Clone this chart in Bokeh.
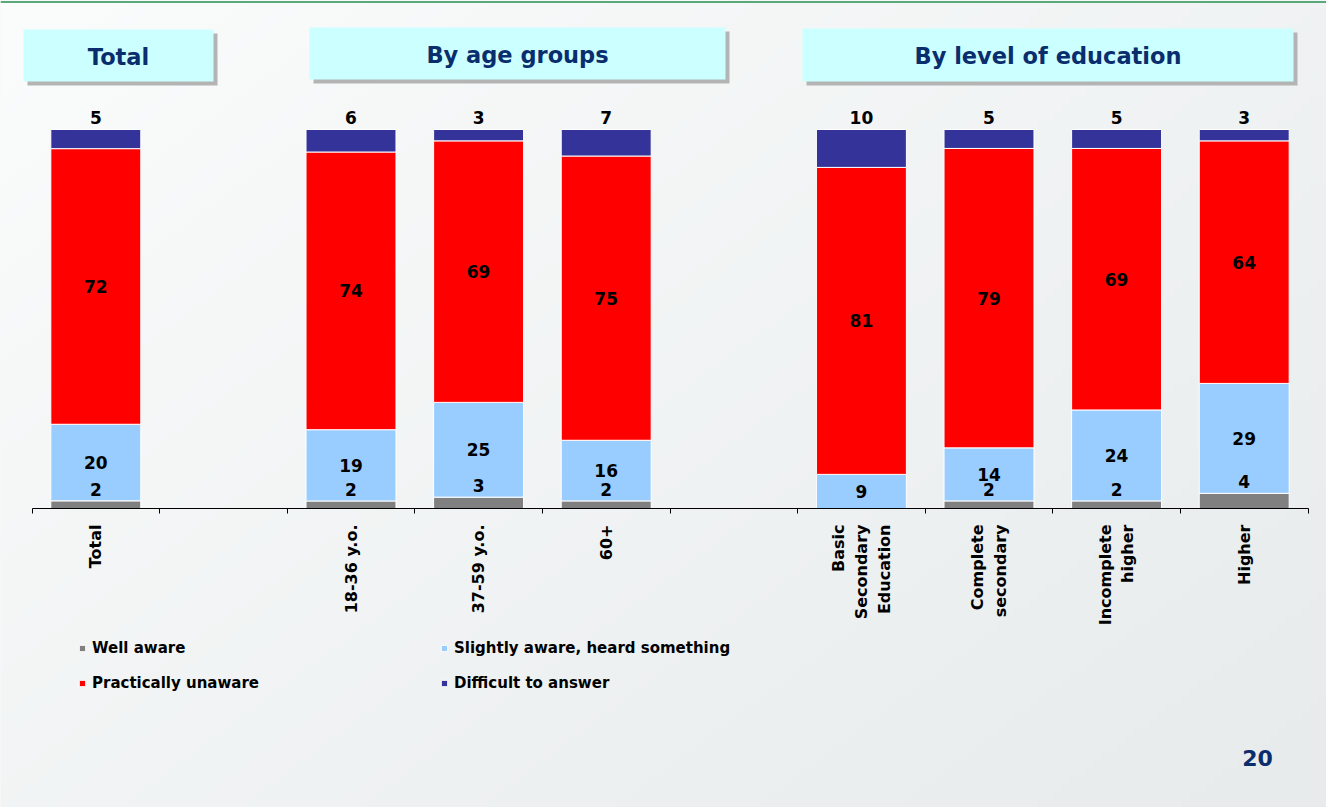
import numpy as np
from bokeh.plotting import figure
from bokeh.models import (Range1d, LinearAxis, FixedTicker, ColumnDataSource,
                          Legend, LegendItem, Span)
from bokeh.core.properties import value
from bokeh.embed import file_html
from bokeh.resources import INLINE

# ---------------- data ----------------
slots = ["Total", "", "18-36 y.o.", "37-59 y.o.", "60+", " ",
         "Basic\nSecondary\nEducation", "Complete\nsecondary",
         "Incomplete\nhigher", "Higher"]
groups = ["Total", "18-36 y.o.", "37-59 y.o.", "60+",
          "Basic\nSecondary\nEducation", "Complete\nsecondary",
          "Incomplete\nhigher", "Higher"]
well_aware = [2, 2, 3, 2, 0, 2, 2, 4]
slightly_aware = [20, 19, 25, 16, 9, 14, 24, 29]
practically_unaware = [72, 74, 69, 75, 81, 79, 69, 64]
difficult = [5, 6, 3, 7, 10, 5, 5, 3]
series_names = ["Well aware", "Slightly aware, heard something",
                "Practically unaware", "Difficult to answer"]
colors = ["#808080", "#99ccff", "#ff0000", "#333399"]
panel_titles = ["Total", "By age groups", "By level of education"]
page_number = "20"

# ---------------- geometry ----------------
W, H = 1326, 807
AX_LEFT, AX_RIGHT = 31.5, 1307.5
AX_Y, TOP_Y = 508.0, 129.0
n = len(slots)
ppx = (AX_RIGHT - AX_LEFT) / n
X0 = -0.5 - AX_LEFT / ppx
X1 = X0 + W / ppx
ppy = (AX_Y - TOP_Y) / 100.0
Y1 = AX_Y / ppy
Y0 = Y1 - H / ppy


def dx(px):
    return X0 + px / ppx


def dy(py):
    return Y1 - py / ppy


FONT = "DejaVu Sans"
NAVY = "#0a2d6e"

p = figure(width=W, height=H, x_range=Range1d(X0, X1), y_range=Range1d(Y0, Y1),
           output_backend="svg", toolbar_location=None, min_border=0,
           x_axis_location=None, y_axis_location=None,
           outline_line_color=None, background_fill_color="#f2f4f4",
           border_fill_color="#f2f4f4")
p.xgrid.visible = False
p.ygrid.visible = False

# background gradient
ny, nx = 101, 166
yy, xx = np.mgrid[0:ny, 0:nx]
t = (xx / (nx - 1)) * 0.55 + ((ny - 1 - yy) / (ny - 1)) * 0.45
c0 = np.array([251, 252, 252], float)
c1 = np.array([231, 235, 236], float)
img = np.empty((ny, nx), dtype=np.uint32)
view = img.view(dtype=np.uint8).reshape((ny, nx, 4))
for k in range(3):
    view[:, :, k] = (c0[k] + (c1[k] - c0[k]) * t).astype(np.uint8)
view[:, :, 3] = 255
p.image_rgba(image=[img], x=X0, y=Y0, dw=X1 - X0, dh=Y1 - Y0)

# green top rule
p.add_layout(Span(location=dy(1.5), dimension="width", line_color="#5aa97b",
                  line_width=2))

# title boxes
boxes = [(23, 29, 213, 81), (309, 27, 725, 79), (802, 28, 1293, 81)]
for (l, tp, r, b), title in zip(boxes, panel_titles):
    p.quad(left=dx(l + 4), right=dx(r + 4), top=dy(tp + 4), bottom=dy(b + 4),
           fill_color="#b4b4b4", line_color=None)
    p.quad(left=dx(l), right=dx(r), top=dy(tp), bottom=dy(b),
           fill_color="#ccffff", line_color=None)
    p.text(x=[dx((l + r) / 2)], y=[dy((tp + b) / 2 + 1)], text=[title],
           text_font=value(FONT), text_font_style="bold",
           text_font_size="22.5px", text_color=NAVY,
           text_align="center", text_baseline="middle")

# ---------------- bars ----------------
vals = np.array([well_aware, slightly_aware, practically_unaware, difficult], float)
share = vals / vals.sum(axis=0) * 100.0
cum = np.cumsum(share, axis=0)
xpos = [slots.index(g) for g in groups]
keys = ["s0", "s1", "s2", "s3"]
src = ColumnDataSource(dict(x=xpos, s0=share[0], s1=share[1], s2=share[2], s3=share[3]))
rs = p.vbar_stack(keys, x="x", width=0.705, source=src, fill_color=colors,
                  line_color="white", line_width=1)

# ---------------- value labels ----------------
lab_x, lab_y, lab_t = [], [], []
for s in (1, 2):
    for j in range(len(groups)):
        lab_x.append(xpos[j])
        lab_y.append(cum[s, j] - share[s, j] / 2)
        lab_t.append(str(int(vals[s, j])))
p.text(x=lab_x, y=lab_y, text=lab_t, text_font=value(FONT),
       text_font_style="bold", text_font_size="17px", text_color="black",
       text_align="center", text_baseline="middle")

wx = [xpos[j] for j in range(len(groups)) if well_aware[j] > 0]
wy = [share[0, j] for j in range(len(groups)) if well_aware[j] > 0]
wt = [str(well_aware[j]) for j in range(len(groups)) if well_aware[j] > 0]
p.text(x=wx, y=wy, text=wt, text_font=value(FONT), text_font_style="bold",
       text_font_size="17px", text_color="black", text_align="center",
       text_baseline="bottom", y_offset=-5)

p.text(x=xpos, y=list(cum[3]), text=[str(v) for v in difficult],
       text_font=value(FONT), text_font_style="bold", text_font_size="17px",
       text_color="black", text_align="center", text_baseline="bottom",
       y_offset=-6)

# ---------------- axis ----------------
ax = LinearAxis(fixed_location=0,
                ticker=FixedTicker(ticks=list(range(n)),
                                   minor_ticks=[i - 0.5 for i in range(n + 1)]),
                major_label_overrides={i: s for i, s in enumerate(slots)},
                major_label_orientation=np.pi / 2)
ax.bounds = (-0.5, n - 0.5)
ax.axis_line_color = "black"
ax.axis_line_width = 1
ax.major_tick_in = 0
ax.major_tick_out = 0
ax.minor_tick_in = 0
ax.minor_tick_out = 5
ax.minor_tick_line_color = "black"
ax.major_label_standoff = 11
ax.major_label_text_font = FONT
ax.major_label_text_font_style = "bold"
ax.major_label_text_font_size = "16px"
ax.major_label_text_color = "black"
p.add_layout(ax, "below")

# ---------------- legend ----------------
order = [0, 2, 1, 3]
legend = Legend(items=[LegendItem(label=series_names[k], renderers=[rs[k]]) for k in order],
                location=(78, 114), orientation="vertical", nrows=2,
                glyph_width=8, glyph_height=8, label_standoff=6, spacing=15,
                label_height=20, label_width=333, padding=0, margin=0,
                background_fill_alpha=0, border_line_color=None,
                label_text_font=FONT, label_text_font_style="bold",
                label_text_font_size="15px", label_text_color="black")
p.add_layout(legend, "center")

# page number
p.text(x=[dx(1257)], y=[dy(757)], text=[page_number], text_font=value(FONT),
       text_font_style="bold", text_font_size="22px", text_color=NAVY,
       text_align="center", text_baseline="middle")

open("out.html", "w").write(file_html(p, INLINE))
